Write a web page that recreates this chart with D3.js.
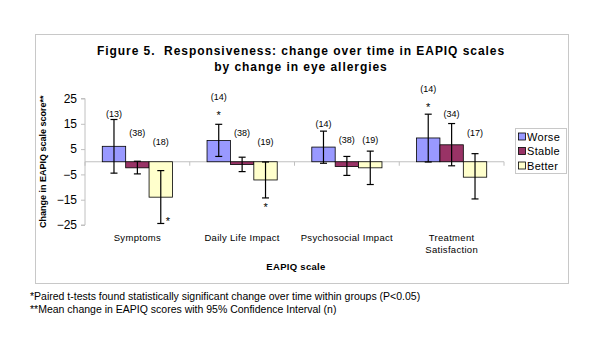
<!DOCTYPE html>
<html lang="en">
<head>
<meta charset="utf-8">
<script src="https://d3js.org/d3.v7.min.js"></script>
<style>
  body { margin: 0; background: #fff; }
  text { font-family: "Liberation Sans", Arial, sans-serif; fill: #000; }
</style>
</head>
<body>
<script>
// Data
const categories = ["Symptoms", "Daily Life Impact", "Psychosocial Impact", "Treatment Satisfaction"];
const series = ["Worse", "Stable", "Better"];
const colors = ["#9999ff", "#993366", "#ffffcc"];
const yTicks = [-25, -15, -5, 5, 15, 25];

const worseMean = [6.1, 8.4, 5.8, 9.4];
const stableMean = [-2.4, -1.1, -1.9, 6.7];
const betterMean = [-14.0, -7.2, -2.4, -6.1];

const worseLo = [-4.5, 2.1, -0.6, -0.1];
const worseHi = [16.7, 14.8, 12.1, 18.8];
const stableLo = [-4.8, -3.9, -5.4, -1.6];
const stableHi = [0.2, 1.8, 2.1, 15.1];
const betterLo = [-24.4, -14.3, -9.0, -14.7];
const betterHi = [-3.5, -0.1, 4.2, 3.2];

const worseN = [13, 14, 14, 14];
const stableN = [38, 38, 38, 34];
const betterN = [18, 19, 19, 17];
// level (in score units) where each (n) label sits
const worseNAt = [19.2, 25.9, 15.3, 29.1];
const stableNAt = [11.7, 11.7, 8.8, 19.0];
const betterNAt = [8.2, 8.2, 8.8, 11.7];

// significant changes: category index, series index, level of the star
const starCat = [0, 1, 1, 3];
const starSeries = [2, 0, 2, 0];
const starAt = [-22.6, 19.2, -17.1, 22.3];

const means = [worseMean, stableMean, betterMean];
const los = [worseLo, stableLo, betterLo];
const his = [worseHi, stableHi, betterHi];
const ns = [worseN, stableN, betterN];
const nAt = [worseNAt, stableNAt, betterNAt];

const rows = [];
categories.forEach((c, i) => series.forEach((s, j) => rows.push({
  cat: c, ser: s, j: j, v: means[j][i], lo: los[j][i], hi: his[j][i], n: ns[j][i], at: nAt[j][i]
})));

const svg = d3.select("body").append("svg").attr("width", 600).attr("height", 360);
svg.append("rect").attr("width", 600).attr("height", 360).attr("fill", "#fff");

// chart frame
svg.append("rect").attr("x", 35.5).attr("y", 34.5).attr("width", 533).attr("height", 249)
  .attr("fill", "none").attr("stroke", "#c8c8c8");

// title
const title = svg.append("text").attr("text-anchor", "middle")
  .style("font-weight", "bold").style("font-size", "12px").style("letter-spacing", "0.95px")
  .style("white-space", "pre");
title.append("tspan").attr("x", 301).attr("y", 55).text("Figure 5.  Responsiveness: change over time in EAPIQ scales");
title.append("tspan").attr("x", 301).attr("y", 71).text("by change in eye allergies");

const y = d3.scaleLinear().domain([-25, 25]).range([225, 98.5]);
const x0 = d3.scaleBand().domain(categories).range([85, 504]).paddingInner(0.33).paddingOuter(0.165);
const x1 = d3.scaleBand().domain(series).range([0, x0.bandwidth()]);
const color = d3.scaleOrdinal().domain(series).range(colors);

// y axis
const yAxis = svg.append("g").attr("transform", "translate(85,0)")
  .call(d3.axisLeft(y).tickValues(yTicks).tickSize(4).tickPadding(4));
yAxis.select(".domain").attr("stroke", "#c0c0c0").attr("d", "M-4," + y(-25) + "H0V" + y(25) + "H-4");
yAxis.selectAll(".tick line").attr("stroke", "#c0c0c0");
yAxis.selectAll(".tick text").style("font-size", "12px").style("font-family", "Liberation Sans, Arial, sans-serif");

svg.append("text").attr("transform", "translate(46," + y(0) + ") rotate(-90)")
  .attr("text-anchor", "middle").style("font-weight", "bold").style("font-size", "9px")
  .text("Change in EAPIQ scale score**");

// zero line with category ticks
const xAxis = svg.append("g").attr("transform", "translate(0," + y(0) + ")");
xAxis.append("line").attr("x1", 85).attr("x2", 504).attr("stroke", "#c0c0c0");
xAxis.selectAll("line.ct").data(d3.range(categories.length + 1)).enter().append("line")
  .attr("class", "ct")
  .attr("x1", i => 85 + i * x0.step()).attr("x2", i => 85 + i * x0.step())
  .attr("y1", 0).attr("y2", 4).attr("stroke", "#c0c0c0");

// bars
svg.append("g").selectAll("rect").data(rows).enter().append("rect")
  .attr("x", d => x0(d.cat) + x1(d.ser))
  .attr("y", d => y(Math.max(0, d.v)))
  .attr("width", x1.bandwidth())
  .attr("height", d => Math.abs(y(d.v) - y(0)))
  .attr("fill", d => color(d.ser))
  .attr("stroke", "#000").attr("stroke-width", 0.8);

// error bars
const eb = svg.append("g").attr("stroke", "#000").attr("stroke-width", 1.2);
rows.forEach(d => {
  const cx = x0(d.cat) + x1(d.ser) + x1.bandwidth() / 2;
  eb.append("line").attr("x1", cx).attr("x2", cx).attr("y1", y(d.hi)).attr("y2", y(d.lo));
  eb.append("line").attr("x1", cx - 3.5).attr("x2", cx + 3.5).attr("y1", y(d.hi)).attr("y2", y(d.hi));
  eb.append("line").attr("x1", cx - 3.5).attr("x2", cx + 3.5).attr("y1", y(d.lo)).attr("y2", y(d.lo));
});

// (n) labels
svg.append("g").selectAll("text").data(rows).enter().append("text")
  .attr("x", d => x0(d.cat) + x1(d.ser) + x1.bandwidth() / 2)
  .attr("y", d => y(d.at) + 3.5)
  .attr("text-anchor", "middle").style("font-size", "9px")
  .text(d => "(" + d.n + ")");

// significance stars
svg.append("g").selectAll("text").data(starAt).enter().append("text")
  .attr("x", (v, k) => x0(categories[starCat[k]]) + x1(series[starSeries[k]]) + x1.bandwidth() / 2 + (starCat[k] === 0 ? 7 : 0))
  .attr("y", v => y(v) + 6)
  .attr("text-anchor", "middle").style("font-size", "11px")
  .text("*");

// category labels
svg.append("g").selectAll("text").data(categories).enter().append("text")
  .attr("x", c => x0(c) + x0.bandwidth() / 2)
  .attr("y", 241)
  .attr("text-anchor", "middle").style("font-size", "9.5px").style("letter-spacing", "0.3px")
  .each(function (c) {
    const parts = c === "Treatment Satisfaction" ? ["Treatment", "Satisfaction"] : [c];
    parts.forEach((p, k) => d3.select(this).append("tspan")
      .attr("x", x0(c) + x0.bandwidth() / 2).attr("dy", k ? 12 : 0).text(p));
  });

svg.append("text").attr("x", 296).attr("y", 270).attr("text-anchor", "middle")
  .style("font-weight", "bold").style("font-size", "9.5px").style("letter-spacing", "0.3px")
  .text("EAPIQ scale");

// legend
const lg = svg.append("g");
lg.append("rect").attr("x", 515.5).attr("y", 128.5).attr("width", 51).attr("height", 45)
  .attr("fill", "#fff").attr("stroke", "#c8c8c8");
series.forEach((s, k) => {
  lg.append("rect").attr("x", 518.5).attr("y", 133 + k * 14.5).attr("width", 7).attr("height", 7)
    .attr("fill", color(s)).attr("stroke", "#000").attr("stroke-width", 0.8);
  lg.append("text").attr("x", 527).attr("y", 140.5 + k * 14.5).style("font-size", "11px")
    .style("letter-spacing", "0.3px").text(s);
});

// footnotes
svg.append("text").attr("x", 30).attr("y", 300).style("font-size", "10.5px")
  .text("*Paired t-tests found statistically significant change over time within groups (P<0.05)");
svg.append("text").attr("x", 30).attr("y", 313).style("font-size", "10.5px")
  .text("**Mean change in EAPIQ scores with 95% Confidence Interval (n)");
</script>
</body>
</html>
